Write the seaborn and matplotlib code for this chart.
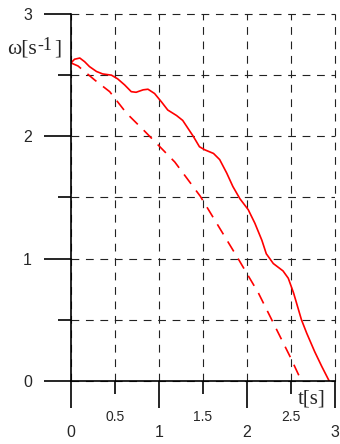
import seaborn as sns
import matplotlib
matplotlib.use("Agg")
import matplotlib.pyplot as plt

# values
t_real = [0.0, 0.04, 0.10, 0.155, 0.21, 0.29, 0.36, 0.46, 0.53, 0.61, 0.685,
          0.74, 0.82, 0.875, 0.95, 1.03, 1.10, 1.20, 1.27, 1.33, 1.39, 1.46,
          1.52, 1.62, 1.69, 1.77, 1.84, 1.92, 2.015, 2.09, 2.17, 2.22, 2.30,
          2.41, 2.47, 2.53, 2.62, 2.68, 2.77, 2.85, 2.935]
w_real = [2.60, 2.63, 2.64, 2.61, 2.57, 2.53, 2.51, 2.50, 2.47, 2.42, 2.365,
          2.36, 2.38, 2.385, 2.35, 2.28, 2.215, 2.17, 2.13, 2.065, 2.00, 1.915,
          1.89, 1.86, 1.81, 1.70, 1.59, 1.49, 1.40, 1.29, 1.15, 1.04, 0.96,
          0.90, 0.84, 0.72, 0.50, 0.39, 0.24, 0.12, 0.0]

t_ideal = [0.0, 0.08, 0.27, 0.44, 0.63, 0.84, 1.18, 1.47, 1.58, 1.90, 2.13,
           2.49, 2.62]
w_ideal = [2.60, 2.575, 2.46, 2.365, 2.19, 2.04, 1.79, 1.51, 1.38, 1.00, 0.72,
           0.20, 0.0]

major_ticks = [0, 1, 2, 3]
minor_ticks = [0.5, 1.5, 2.5]
x_minor_labels = ["0.5", "1.5", "2.5"]

sns.set_style("ticks")
plt.rcParams["font.family"] = ["Liberation Sans", "DejaVu Sans"]
serif = ["Liberation Serif", "DejaVu Serif"]

fig, ax = plt.subplots(figsize=(3.4, 4.44), dpi=100)
fig.subplots_adjust(left=0.2088, right=0.985, bottom=0.1419, top=0.9685)

sns.lineplot(x=t_real, y=w_real, ax=ax, color="#ff0000", lw=1.2, errorbar=None)
sns.lineplot(x=t_ideal, y=w_ideal, ax=ax, color="#ff0000", lw=1.2,
             linestyle=(0, (7, 5)), errorbar=None)

ax.set_xlim(0, 3)
ax.set_ylim(0, 3)

ax.set_xticks(major_ticks)
ax.set_xticks(minor_ticks, minor=True)
ax.set_xticklabels([str(v) for v in major_ticks])
ax.set_xticklabels(x_minor_labels, minor=True)
ax.set_yticks(major_ticks)
ax.set_yticks(minor_ticks, minor=True)
ax.set_yticklabels([str(v) for v in major_ticks])

# dashed grid at every half unit
ax.grid(which="both", color="#222222", lw=0.8, linestyle=(0, (7, 6)))
for gl in ax.get_xgridlines() + ax.get_ygridlines():
    gl.set_clip_on(False)

for side in ["top", "right"]:
    ax.spines[side].set_visible(False)
for side in ["left", "bottom"]:
    ax.spines[side].set_color("black")
    ax.spines[side].set_linewidth(1.2)

ax.tick_params(which="major", direction="out", length=19.5, width=1.2,
               color="black", labelsize=11.5)
ax.tick_params(which="minor", direction="out", length=9.5, width=1.2,
               color="black")
ax.tick_params(axis="x", which="major", pad=12.5)
ax.tick_params(axis="x", which="minor", pad=11.5, labelsize=10)
ax.tick_params(axis="y", which="major", pad=8.5)

ax.set_xlabel("")
ax.set_ylabel("")

# axis names, omega with a near full size exponent
ax.text(-0.727, 2.681, "ω[s", ha="left", va="baseline", fontsize=15.5,
        family=serif, clip_on=False)
ax.text(-0.385, 2.706, "-1", ha="left", va="baseline", fontsize=13,
        family=serif, clip_on=False)
ax.text(-0.19, 2.681, "]", ha="left", va="baseline", fontsize=15.5,
        family=serif, clip_on=False)
ax.text(2.58, -0.15, "t[s]", ha="left", va="center", fontsize=15,
        family=serif, clip_on=False)

plt.savefig("out.png", dpi=100)
